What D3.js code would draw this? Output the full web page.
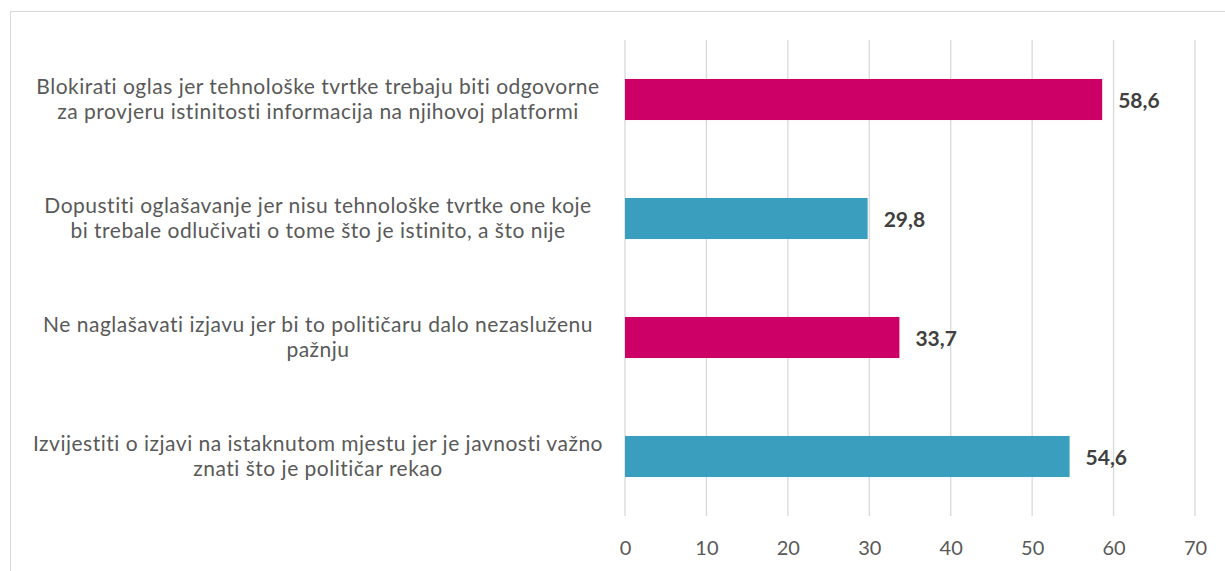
<!DOCTYPE html>
<html>
<head>
<meta charset="utf-8">
<script src="https://cdn.jsdelivr.net/npm/d3@7"></script>
<style>
  body { margin: 0; background: #fff; }
  svg text { font-family: Lato, "Open Sans", sans-serif; }
</style>
</head>
<body>
<div id="chart"></div>
<script>
var categories = [
  ["Blokirati oglas jer tehnološke tvrtke trebaju biti odgovorne", "za provjeru istinitosti informacija na njihovoj platformi"],
  ["Dopustiti oglašavanje jer nisu tehnološke tvrtke one koje", "bi trebale odlučivati o tome što je istinito, a što nije"],
  ["Ne naglašavati izjavu jer bi to političaru dalo nezasluženu", "pažnju"],
  ["Izvijestiti o izjavi na istaknutom mjestu jer je javnosti važno", "znati što je političar rekao"]
];
var values = [58.6, 29.8, 33.7, 54.6];
var barColors = ["#cc0066", "#3a9fbf", "#cc0066", "#3a9fbf"];
var xTicks = [0, 10, 20, 30, 40, 50, 60, 70];

var w = 1225, h = 571;
var svg = d3.select('#chart').append('svg').attr('width', w).attr('height', h);

// chart frame (runs off the right/bottom edge like the original crop)
svg.append('rect')
  .attr('x', 10.5).attr('y', 11.5)
  .attr('width', w + 20).attr('height', h + 20)
  .attr('fill', 'none').attr('stroke', '#d9d9d9');

var xScale = d3.scaleLinear().domain([0, 70]).range([625, 1195]);
var yScale = d3.scaleBand().domain(d3.range(categories.length)).range([40, 516]).paddingInner(0.655).paddingOuter(0.3275);

// vertical gridlines
svg.append('g').selectAll('line').data(xTicks).enter().append('line')
  .attr('x1', function(d){ return xScale(d); })
  .attr('x2', function(d){ return xScale(d); })
  .attr('y1', 40).attr('y2', 516)
  .attr('stroke', '#d9d9d9').attr('stroke-width', 1.3);

// x axis labels
var xAxis = d3.axisBottom(xScale).tickValues(xTicks).tickSize(0).tickPadding(0);
var gx = svg.append('g')
  .attr('transform', 'translate(0,' + 516 + ')')
  .call(xAxis);
gx.select('.domain').remove();
gx.selectAll('text')
  .attr('dy', 0).attr('y', 39)
  .style('font-size', '20px').attr('fill', '#595959');

// bars
svg.append('g').selectAll('rect').data(values).enter().append('rect')
  .attr('x', xScale(0))
  .attr('y', function(d, i){ return yScale(i); })
  .attr('width', function(d){ return xScale(d) - xScale(0); })
  .attr('height', yScale.bandwidth())
  .attr('fill', function(d, i){ return barColors[i]; });

// value labels
svg.append('g').selectAll('text').data(values).enter().append('text')
  .attr('x', function(d){ return xScale(d) + 16; })
  .attr('y', function(d, i){ return yScale(i) + yScale.bandwidth() / 2 + 8; })
  .style('font-size', '21px').style('font-weight', 'bold')
  .attr('fill', '#404040')
  .text(function(d){ return d.toFixed(1).replace('.', ','); });

// category labels, two lines, centred
var cat = svg.append('g').selectAll('text').data(categories).enter().append('text')
  .attr('text-anchor', 'middle')
  .style('font-size', '21px')
  .style('letter-spacing', '0.5px')
  .attr('fill', '#595959')
  .attr('y', function(d, i){ return yScale(i) + yScale.bandwidth() / 2; });
cat.selectAll('tspan').data(function(d){ return d; }).enter().append('tspan')
  .attr('x', 318)
  .attr('dy', function(d, j){ return j === 0 ? '-6' : '25.5'; })
  .text(function(d){ return d; });
</script>
</body>
</html>
